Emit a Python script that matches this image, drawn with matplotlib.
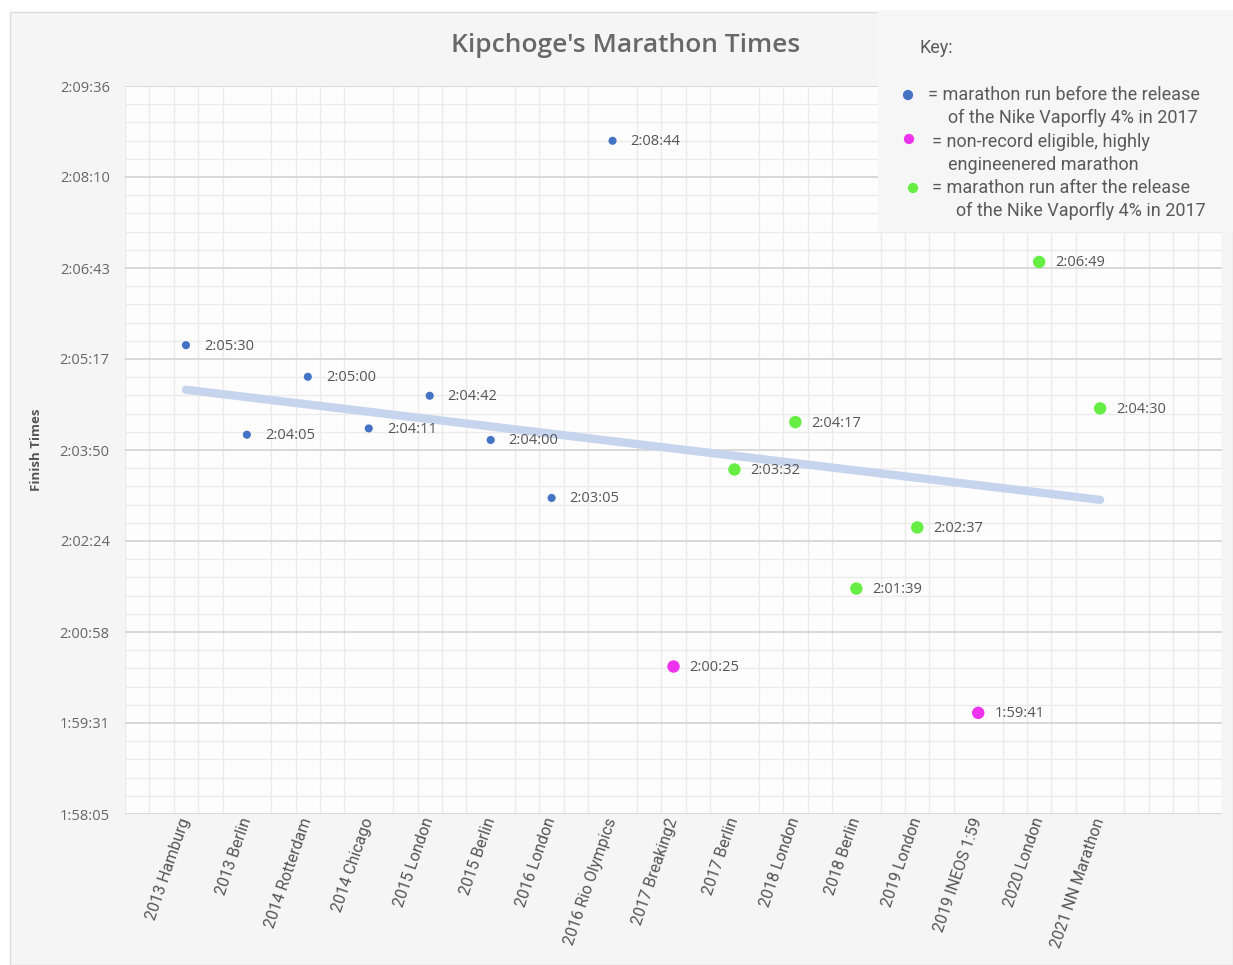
import numpy as np
import matplotlib
matplotlib.use("Agg")
import matplotlib.pyplot as plt
from matplotlib.patches import Rectangle
from matplotlib.ticker import FixedLocator, AutoMinorLocator
import matplotlib.transforms as mtransforms

# data
races = ['2013 Hamburg', '2013 Berlin', '2014 Rotterdam', '2014 Chicago',
         '2015 London', '2015 Berlin', '2016 London', '2016 Rio Olympics',
         '2017 Breaking2', '2017 Berlin', '2018 London', '2018 Berlin',
         '2019 London', '2019 INEOS 1:59', '2020 London', '2021 NN Marathon']
times = ['2:05:30', '2:04:05', '2:05:00', '2:04:11', '2:04:42', '2:04:00',
         '2:03:05', '2:08:44', '2:00:25', '2:03:32', '2:04:17', '2:01:39',
         '2:02:37', '1:59:41', '2:06:49', '2:04:30']
# 'pre' = before Vaporfly, 'eng' = engineered, 'post' = after Vaporfly
groups = ['pre', 'pre', 'pre', 'pre', 'pre', 'pre', 'pre', 'pre',
          'eng', 'post', 'post', 'post', 'post', 'eng', 'post', 'post']
ytick_labels = ['1:58:05', '1:59:31', '2:00:58', '2:02:24', '2:03:50',
                '2:05:17', '2:06:43', '2:08:10', '2:09:36']

def to_sec(t):
    h, m, s = t.split(':')
    return int(h) * 3600 + int(m) * 60 + int(s)

secs = np.array([to_sec(t) for t in times])
xs = np.arange(len(races))

colors = {'pre': '#4472c4', 'eng': '#ee33ee', 'post': '#66ee44'}
sizes = {'pre': 34, 'eng': 80, 'post': 80}

W, H = 1233, 965
fig = plt.figure(figsize=(W / 100, H / 100), dpi=100, facecolor='white')

def px(x0, y0, x1, y1):
    # pixel box -> figure fraction [l, b, w, h]
    return [x0 / W, 1 - y1 / H, (x1 - x0) / W, (y1 - y0) / H]

# card background
card = Rectangle((10 / W, 0), (W - 10) / W, (H - 12) / H, transform=fig.transFigure,
                 facecolor='#f5f5f5', edgecolor='#dcdcdc', lw=1, zorder=-10)
fig.patches.append(card)

ax = fig.add_axes(px(125, 86, 1222, 814))
ax.set_facecolor('#fdfdfd')

y0, y1 = to_sec(ytick_labels[0]), to_sec(ytick_labels[-1])
yticks = np.linspace(y0, y1, len(ytick_labels))
ax.set_ylim(y0, y1)
ax.set_xlim(-1, 17)

# trendline (least squares over all races)
k, b = np.polyfit(xs, secs, 1)
ax.plot(xs[[0, -1]], k * xs[[0, -1]] + b, color='#c6d4ee', lw=6, solid_capstyle='round', zorder=2)

for g in ['pre', 'eng', 'post']:
    m = np.array([gg == g for gg in groups])
    ax.scatter(xs[m], secs[m], s=sizes[g], color=colors[g], edgecolors='none', zorder=3)

for x, s, t, g in zip(xs, secs, times, groups):
    off = 18 if g == 'pre' else 16
    ax.annotate(t, (x, s), xytext=(off, -1), textcoords='offset pixels',
                ha='left', va='center', fontsize=10.5, color='#555555', family='Open Sans', zorder=4)

# axes / grid
ax.set_yticks(yticks)
ax.set_yticklabels(ytick_labels, family='Open Sans', fontsize=10.5, color='#666666')
ax.yaxis.set_minor_locator(AutoMinorLocator(5))
ax.set_xticks(xs)
ax.set_xticklabels(races, rotation=71, ha='right', va='center', rotation_mode='anchor',
                   family='Roboto', fontsize=11.5, color='#555555')
shift = mtransforms.ScaledTranslation(-9 / 100, 0, fig.dpi_scale_trans)
for lab in ax.get_xticklabels():
    lab.set_transform(lab.get_transform() + shift)
ax.xaxis.set_minor_locator(FixedLocator(np.arange(-1, 17.01, 0.4)))
ax.tick_params(which='both', length=0)
ax.tick_params(axis='y', pad=11)
ax.tick_params(axis='x', pad=3)
ax.grid(axis='y', which='major', color='#d6d6d6', lw=1.3, zorder=0)
ax.grid(axis='y', which='minor', color='#ebebeb', lw=1, zorder=0)
ax.grid(axis='x', which='minor', color='#ebebeb', lw=1, zorder=0)
ax.grid(axis='x', which='major', visible=False)
ax.set_axisbelow(True)
for sp in ax.spines.values():
    sp.set_visible(False)

ax.set_ylabel('Finish Times', fontsize=9.5, fontweight='bold', color='#555555', family='Open Sans')
ax.yaxis.set_label_coords((43 - 125) / 1097, 0.5)

fig.text(626 / W, 1 - 45 / H, "Kipchoge's Marathon Times", ha='center', va='center',
         fontsize=19, color='#686868', family='Open Sans', fontweight='semibold')

# key box
lax = fig.add_axes(px(878, 10, 1233, 232))
lax.set_facecolor('#f6f6f6')
lax.set_xlim(878, 1233)
lax.set_ylim(232, 10)
lax.set_xticks([])
lax.set_yticks([])
for sp in lax.spines.values():
    sp.set_visible(False)

kfont = dict(family='Roboto', fontsize=13, color='#5a5a5a', va='center', ha='left')
lax.text(920, 48, 'Key:', **kfont)
lax.scatter([908], [95], s=55, color=colors['pre'], edgecolors='none')
lax.text(928, 95, '= marathon run before the release', **kfont)
lax.text(948, 118, 'of the Nike Vaporfly 4% in 2017', **kfont)
lax.scatter([909], [139], s=55, color=colors['eng'], edgecolors='none')
lax.text(932, 142, '= non-record eligible, highly', **kfont)
lax.text(948, 165, 'engineenered marathon', **kfont)
lax.scatter([913], [188], s=55, color=colors['post'], edgecolors='none')
lax.text(932, 188, '= marathon run after the release', **kfont)
lax.text(956, 211, 'of the Nike Vaporfly 4% in 2017', **kfont)

fig.savefig('out.png', dpi=100)
